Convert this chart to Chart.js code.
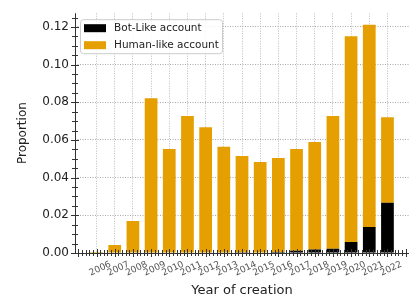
<!DOCTYPE html>
<html lang="en">
<head>
    <meta charset="UTF-8">
    <title>Year of creation</title>
    <script src="https://cdn.jsdelivr.net/npm/chart.js"></script>
    <style>
        body {
            margin: 0;
            padding: 0;
            background-color: #ffffff;
        }
        canvas {
            display: block;
        }
    </style>
</head>
<body>
    <canvas id="chart" width="414" height="298"></canvas>

    <script>
        // data
        const years = [2006, 2007, 2008, 2009, 2010, 2011, 2012, 2013, 2014, 2015, 2016, 2017, 2018, 2019, 2020, 2021, 2022];
        const botLike = [0, 0, 0, 0, 0, 0, 0, 0, 0.0004, 0.0003, 0.0005, 0.0012, 0.0018, 0.0023, 0.0058, 0.0138, 0.0267];
        const humanLike = [0.0005, 0.0042, 0.0170, 0.0822, 0.0552, 0.0727, 0.0668, 0.0564, 0.0511, 0.0480, 0.0499, 0.0540, 0.0571, 0.0704, 0.1093, 0.1074, 0.0454];
        const yTicks = [0, 0.02, 0.04, 0.06, 0.08, 0.10, 0.12];
        const legendLabels = ['Bot-Like account', 'Human-like account'];

        const orange = '#E69F00';
        const font = "'DejaVu Sans', sans-serif";

        // spines plus matplotlib style ticks that cross the axis line
        const axesPlugin = {
            id: 'axes',
            afterDraw(chart) {
                const ctx = chart.ctx;
                const a = chart.chartArea;
                const x = chart.scales.x;
                const y = chart.scales.y;
                ctx.save();
                ctx.strokeStyle = '#333';
                ctx.lineWidth = 1;
                ctx.beginPath();
                ctx.moveTo(a.left + 0.5, a.top);
                ctx.lineTo(a.left + 0.5, a.bottom + 0.5);
                ctx.lineTo(a.right, a.bottom + 0.5);
                ctx.stroke();

                ctx.beginPath();
                for (let v = 0; v <= 0.1275; v += 0.005) {
                    const py = Math.round(y.getPixelForValue(v)) + 0.5;
                    const major = Math.abs(v / 0.02 - Math.round(v / 0.02)) < 1e-6;
                    const len = major ? 4 : 3;
                    ctx.moveTo(a.left - len, py);
                    ctx.lineTo(a.left + len, py);
                }
                for (let i = 0; i <= 92; i++) {
                    const v = 2005 + i * 0.2;
                    if (v < x.min || v > x.max) continue;
                    const px = Math.round(x.getPixelForValue(v)) + 0.5;
                    const major = i % 5 === 0;
                    const len = major ? 4 : 3;
                    ctx.moveTo(px, a.bottom - len);
                    ctx.lineTo(px, a.bottom + len);
                }
                ctx.stroke();

                // legend box in the upper left corner
                const bx = a.left + 5, by = a.top + 6, bw = 142, bh = 34;
                ctx.fillStyle = 'rgba(255,255,255,0.85)';
                ctx.strokeStyle = '#cccccc';
                ctx.beginPath();
                ctx.roundRect(bx + 0.5, by + 0.5, bw, bh, 3);
                ctx.fill();
                ctx.stroke();
                const colors = ['#000000', orange];
                ctx.font = '10.5px ' + font;
                ctx.textBaseline = 'middle';
                legendLabels.forEach((t, i) => {
                    const ry = by + 9 + i * 17;
                    ctx.fillStyle = colors[i];
                    ctx.fillRect(bx + 4, ry - 4, 22, 8);
                    ctx.fillStyle = '#222';
                    ctx.fillText(t, bx + 34, ry);
                });
                ctx.restore();
            }
        };

        const ctx = document.getElementById('chart').getContext('2d');

        new Chart(ctx, {
            type: 'bar',
            data: {
                datasets: [{
                    label: legendLabels[0],
                    data: years.map((yr, i) => ({ x: yr, y: botLike[i] })),
                    backgroundColor: '#000000',
                    barPercentage: 0.7,
                    categoryPercentage: 1
                }, {
                    label: legendLabels[1],
                    data: years.map((yr, i) => ({ x: yr, y: humanLike[i] })),
                    backgroundColor: orange,
                    barPercentage: 0.7,
                    categoryPercentage: 1
                }]
            },
            options: {
                responsive: false,
                animation: false,
                layout: { padding: { top: 13, right: 5, left: 0, bottom: 0 } },
                plugins: {
                    legend: { display: false },
                    tooltip: { enabled: false }
                },
                scales: {
                    x: {
                        type: 'linear',
                        stacked: true,
                        offset: false,
                        min: 2004.815,
                        max: 2023.185,
                        z: 1,
                        afterBuildTicks: s => { s.ticks = years.map(v => ({ value: v })); },
                        afterFit: s => { s.height = 45; },
                        grid: { color: '#bdbdbd', lineWidth: 1, drawTicks: false, offset: false },
                        border: { display: false, dash: [1, 1.5] },
                        ticks: {
                            autoSkip: false,
                            minRotation: 25,
                            maxRotation: 25,
                            padding: 6,
                            labelOffset: 14,
                            color: '#555',
                            font: { family: font, size: 9 },
                            callback: v => String(v)
                        },
                        title: {
                            display: true,
                            text: 'Year of creation',
                            color: '#222',
                            font: { family: font, size: 13 },
                            padding: { top: 0, bottom: 0 }
                        }
                    },
                    y: {
                        stacked: true,
                        min: 0,
                        max: 0.1273,
                        z: 1,
                        afterBuildTicks: s => { s.ticks = yTicks.map(v => ({ value: v })); },
                        afterFit: s => { s.width = 75; },
                        grid: { color: '#a8a8a8', lineWidth: 1, drawTicks: false },
                        border: { display: false, dash: [1, 1.5] },
                        ticks: {
                            padding: 6,
                            color: '#222',
                            font: { family: font, size: 12 },
                            callback: v => v.toFixed(2)
                        },
                        title: {
                            display: true,
                            text: 'Proportion',
                            color: '#222',
                            font: { family: font, size: 12 },
                            padding: { top: 16, bottom: 0 }
                        }
                    }
                }
            },
            plugins: [axesPlugin]
        });
    </script>
</body>
</html>
